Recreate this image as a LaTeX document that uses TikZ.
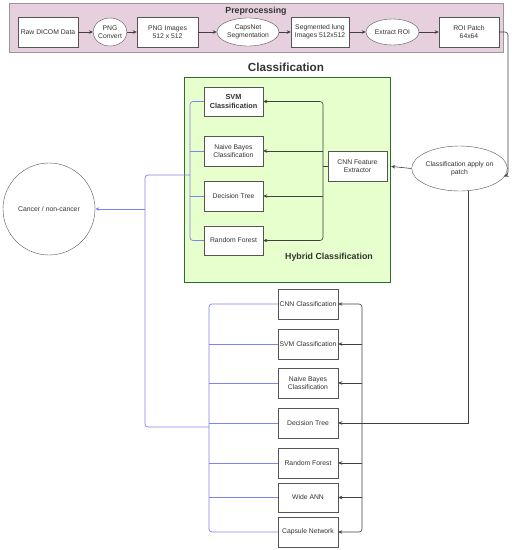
\documentclass[tikz,border=0pt]{standalone}
\usepackage{fontspec}
\setmainfont{Liberation Sans}
\usetikzlibrary{shapes.geometric,arrows.meta}
\definecolor{pinkbg}{HTML}{E6D0DE}
\definecolor{greenbg}{HTML}{E6FFCC}
\definecolor{bline}{RGB}{130,130,240}
\definecolor{txt}{HTML}{333333}
\definecolor{edge}{HTML}{555555}
\tikzset{
  box/.style={draw=edge, fill=white, rectangle, minimum width=60pt, minimum height=30pt, inner sep=1pt, align=center, font=\fontsize{6.8}{8}\selectfont, text=txt},
  ell/.style={draw=edge, fill=white, ellipse, inner sep=0pt, align=center, font=\fontsize{6.8}{8}\selectfont, text=txt},
  ln/.style={draw=black!75, line width=0.6pt},
  arr/.style={ln, -{Stealth[length=4pt,width=3.5pt]}},
  arr2/.style={ln, {Stealth[length=4pt,width=3.5pt]}-{Stealth[length=4pt,width=3.5pt]}},
  bln/.style={draw=bline, line width=0.7pt},
  barr/.style={bln, -{Stealth[length=4pt,width=3.5pt]}},
  rc/.style={rounded corners=3pt},
}
\begin{document}
\begin{tikzpicture}[x=1pt,y=-1pt]
\useasboundingbox (0,0) rectangle (512,550);
% Preprocessing panel
\node[draw=gray!80, fill=pinkbg, minimum width=494pt, minimum height=49pt, inner sep=0pt] (prep) at (256,27.5) {};
\node[font=\fontsize{8.8}{10}\selectfont\bfseries, text=txt] (preptitle) at (256,11) {Preprocessing};
\node[box, minimum width=60pt] (raw) at (48,32) {Raw DICOM Data};
\node[ell, minimum width=33pt, minimum height=28pt] (pngc) at (110,32) {PNG\\Convert};
\node[box, minimum width=61pt] (pngi) at (167.5,32) {PNG Images\\512 x 512};
\node[ell, minimum width=62pt, minimum height=28pt] (caps) at (248,32) {CapsNet\\Segmentation};
\node[box, minimum width=58pt] (seg) at (320,32) {Segmented lung\\Images 512x512};
\node[ell, minimum width=53pt, minimum height=26pt] (roi) at (392.5,32) {Extract ROI};
\node[box, minimum width=60pt] (patch) at (469,32) {ROI Patch\\64x64};
\draw[arr] (raw) -- (pngc);
\draw[arr] (pngc) -- (pngi);
\draw[arr] (pngi) -- (caps);
\draw[arr] (caps) -- (seg);
\draw[arr] (seg) -- (roi);
\draw[arr] (roi) -- (patch);

% Classification panel
\node[font=\fontsize{11.7}{13}\selectfont\bfseries, text=txt] (classtitle) at (286,67) {Classification};
\node[draw=gray!60!green!60!black, fill=greenbg, minimum width=206pt, minimum height=205pt, inner sep=0pt] (green) at (287,179.5) {};
\node[box, minimum width=59pt, minimum height=29pt, font=\fontsize{7.3}{9}\selectfont\bfseries] (hsvm) at (233.5,101.5) {SVM\\Classification};
\node[box, minimum width=59pt] (hnb) at (233.5,151) {Naive Bayes\\Classification};
\node[box, minimum width=59pt] (hdt) at (233.5,196) {Decision Tree};
\node[box, minimum width=59pt, minimum height=29pt] (hrf) at (233.5,240.5) {Random Forest};
\node[box, minimum width=59pt] (cnnfe) at (357.5,166) {CNN Feature\\Extractor};
\node[font=\fontsize{8.8}{10}\selectfont\bfseries, text=txt] (hybrid) at (329,257) {Hybrid Classification};

\node[ell, minimum width=75pt, minimum height=45pt] (apply) at (459.5,168.5) {Classification apply on\\patch};
\node[draw=edge, circle, minimum size=92pt, inner sep=0pt, font=\fontsize{6.8}{8}\selectfont, text=txt] (cancer) at (49,209) {Cancer / non-cancer};

% bottom classifiers
\node[box] (bcnn) at (308,304) {CNN Classification};
\node[box] (bsvm) at (308,344) {SVM Classification};
\node[box] (bnb) at (308,383) {Naive Bayes\\Classification};
\node[box] (bdt) at (308,423) {Decision Tree};
\node[box] (brf) at (308,463) {Random Forest};
\node[box, minimum height=29pt] (bann) at (308,497.5) {Wide ANN};
\node[box] (bcap) at (308,532) {Capsule Network};

% coordinates
\coordinate (c1) at (508,175);
\coordinate (hb) at (323,166);
\coordinate (rb) at (468,423);
\coordinate (rbus) at (362,423);
\coordinate (hbl) at (190,175);
\coordinate (bj2) at (145,175);
\coordinate (bbl) at (209,427);
\coordinate (bj4) at (145,427);

% preprocessing to classification
\draw[arr, rc] (patch.east) -| (c1) -- (apply.-10);
\draw[arr, shorten >=4pt] (apply.west) -- (cnnfe.east);

% CNN feature extractor to hybrid classifiers
\draw[ln] (cnnfe.west) -- (hb);
\draw[arr2, rc] (hsvm.east) -| (hb) |- (hrf.east);
\draw[arr] (hb |- hnb.east) -- (hnb.east);
\draw[arr] (hb |- hdt.east) -- (hdt.east);

% apply to bottom classifiers
\draw[arr] (rb |- apply.south) -- (rb) -- (bdt.east);
\draw[arr2, rc] (bcnn.east) -| (rbus) |- (bcap.east);
\draw[arr] (rbus |- bsvm.east) -- (bsvm.east);
\draw[arr] (rbus |- bnb.east) -- (bnb.east);
\draw[arr] (rbus |- brf.east) -- (brf.east);
\draw[arr] (rbus |- bann.east) -- (bann.east);

% blue outputs
\draw[bln, rc] (hsvm.west) -| (hbl) |- (hrf.west);
\draw[bln] (hnb.west) -- (hbl |- hnb.west);
\draw[bln] (hdt.west) -- (hbl |- hdt.west);
\draw[bln, rc] (bcnn.west) -| (bbl) |- (bcap.west);
\draw[bln] (bsvm.west) -- (bbl |- bsvm.west);
\draw[bln] (bnb.west) -- (bbl |- bnb.west);
\draw[bln] (bdt.west) -- (bbl |- bdt.west);
\draw[bln] (brf.west) -- (bbl |- brf.west);
\draw[bln] (bann.west) -- (bbl |- bann.west);
\draw[bln, rc] (hbl) -- (bj2) -- (bj4) -- (bbl);
\draw[barr] (bj4 |- cancer.east) -- (cancer.east);
\end{tikzpicture}
\end{document}
